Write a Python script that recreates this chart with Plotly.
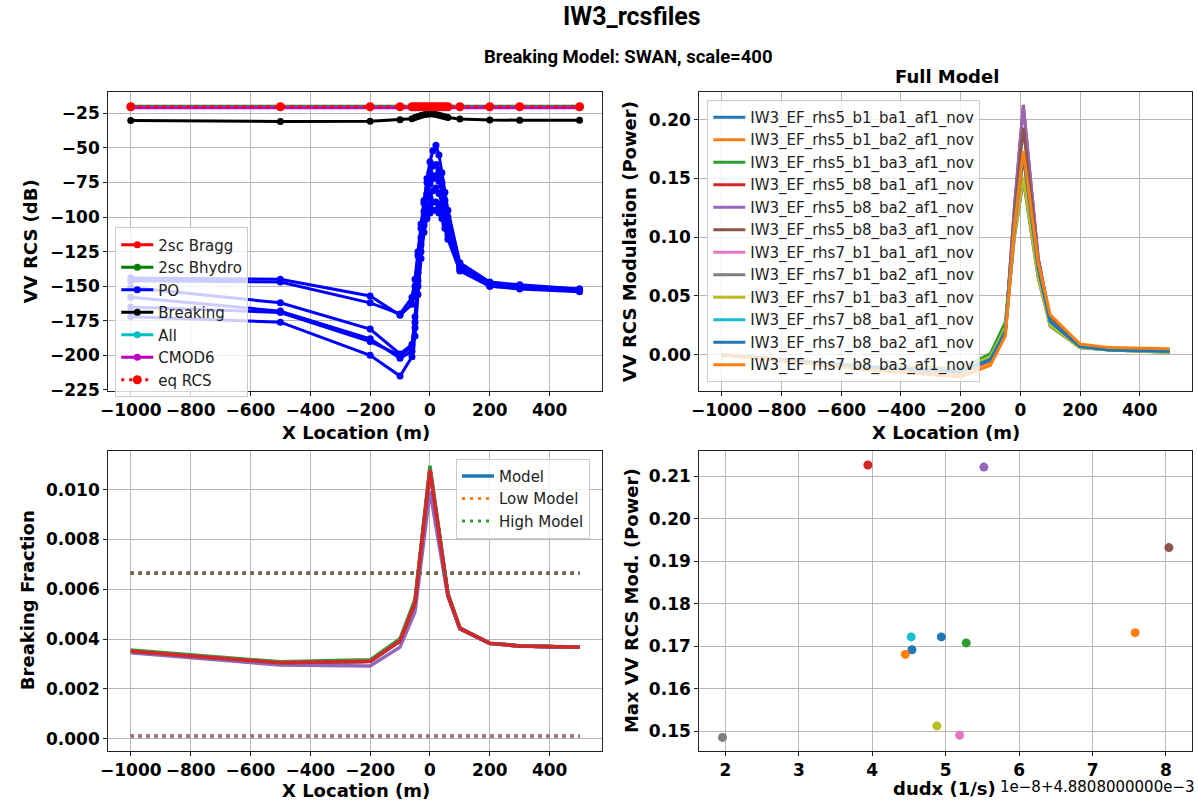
import plotly.graph_objects as go

W, H = 1198, 811

# ---------------- data ----------------
X_LOC = [-1000, -500, -200, -100, -60, -50, -40, -30, -20, -10, 0, 10, 20, 30, 40, 50, 60, 100, 200, 300, 500]

BRAGG_DB = [-19.8, -19.8, -19.8, -19.8, -19.8, -19.8, -19.8, -19.8, -19.8, -19.8, -19.8,
            -19.8, -19.8, -19.8, -19.8, -19.8, -19.8, -19.8, -19.8, -19.8, -19.8]
BHYDRO_DB = [-20.0, -20.0, -20.0, -20.0, -20.0, -20.0, -20.0, -20.0, -20.0, -20.0, -20.0,
             -20.0, -20.0, -20.0, -20.0, -20.0, -20.0, -20.0, -20.0, -20.0, -20.0]
ALL_DB = [-20.4, -20.4, -20.4, -20.4, -20.4, -20.4, -20.4, -20.4, -20.4, -20.4, -20.4,
          -20.4, -20.4, -20.4, -20.4, -20.4, -20.4, -20.4, -20.4, -20.4, -20.4]
CMOD6_DB = [-20.9, -20.9, -20.9, -20.9, -20.9, -20.9, -20.9, -20.9, -20.9, -20.9, -20.9,
            -20.9, -20.9, -20.9, -20.9, -20.9, -20.9, -20.9, -20.9, -20.9, -20.9]
EQ_RCS_DB = [-20.1, -20.1, -20.1, -20.1, -20.1, -20.1, -20.1, -20.1, -20.1, -20.1, -20.1,
             -20.1, -20.1, -20.1, -20.1, -20.1, -20.1, -20.1, -20.1, -20.1, -20.1]
BREAKING_DB = [-30.2, -30.8, -30.6, -29.6, -28.8, -28.0, -27.3, -26.6, -26.0, -25.6, -25.4,
               -25.5, -25.8, -26.3, -26.9, -27.5, -28.0, -29.0, -29.8, -29.9, -30.0]
PO_DB = [
    [-144, -145, -157, -171, -163, -150, -128, -108, -90, -72, -60, -52, -48, -55, -68, -82, -95, -133, -147, -149, -152],
    [-146, -147, -162, -170, -158, -145, -125, -105, -88, -75, -68, -63, -62, -66, -75, -88, -100, -135, -148, -150, -152],
    [-151, -162, -181, -199, -192, -172, -140, -115, -96, -83, -76, -72, -70, -74, -82, -93, -104, -136, -149, -151, -153],
    [-158, -168, -188, -202, -197, -180, -150, -125, -106, -93, -86, -81, -79, -83, -90, -100, -110, -137, -149, -151, -153],
    [-165, -169, -190, -200, -194, -176, -146, -120, -102, -95, -91, -89, -89, -92, -98, -105, -113, -138, -150, -151, -153],
    [-172, -176, -200, -215, -201, -186, -156, -130, -111, -101, -97, -95, -95, -97, -101, -108, -116, -139, -150, -152, -154],
]

FILES = [
    "IW3_EF_rhs5_b1_ba1_af1_nov", "IW3_EF_rhs5_b1_ba2_af1_nov", "IW3_EF_rhs5_b1_ba3_af1_nov",
    "IW3_EF_rhs5_b8_ba1_af1_nov", "IW3_EF_rhs5_b8_ba2_af1_nov", "IW3_EF_rhs5_b8_ba3_af1_nov",
    "IW3_EF_rhs7_b1_ba1_af1_nov", "IW3_EF_rhs7_b1_ba2_af1_nov", "IW3_EF_rhs7_b1_ba3_af1_nov",
    "IW3_EF_rhs7_b8_ba1_af1_nov", "IW3_EF_rhs7_b8_ba2_af1_nov", "IW3_EF_rhs7_b8_ba3_af1_nov",
]

MOD_X = [-1000, -500, -200, -100, -50, -20, 10, 60, 100, 200, 300, 500]
MOD_POWER = [
    [0.000, -0.011, -0.014, -0.004, 0.020, 0.110, 0.1722, 0.075, 0.028, 0.007, 0.004, 0.003],
    [0.000, -0.012, -0.016, -0.006, 0.018, 0.105, 0.1681, 0.072, 0.030, 0.008, 0.005, 0.004],
    [0.000, -0.010, -0.012, 0.001, 0.028, 0.110, 0.1708, 0.068, 0.024, 0.006, 0.004, 0.002],
    [0.000, -0.012, -0.014, -0.005, 0.020, 0.125, 0.2126, 0.082, 0.030, 0.007, 0.005, 0.003],
    [0.000, -0.012, -0.014, -0.005, 0.020, 0.125, 0.2121, 0.082, 0.030, 0.007, 0.005, 0.003],
    [0.000, -0.012, -0.014, -0.004, 0.021, 0.118, 0.1932, 0.080, 0.031, 0.007, 0.005, 0.003],
    [0.000, -0.010, -0.012, -0.003, 0.022, 0.100, 0.1491, 0.065, 0.025, 0.006, 0.004, 0.002],
    [0.000, -0.010, -0.013, -0.003, 0.021, 0.100, 0.1486, 0.065, 0.025, 0.006, 0.004, 0.002],
    [0.000, -0.010, -0.012, -0.002, 0.023, 0.102, 0.1513, 0.066, 0.025, 0.006, 0.004, 0.002],
    [0.000, -0.011, -0.014, -0.004, 0.020, 0.110, 0.1722, 0.075, 0.028, 0.007, 0.004, 0.003],
    [0.000, -0.011, -0.014, -0.004, 0.020, 0.108, 0.1692, 0.073, 0.028, 0.007, 0.004, 0.003],
    [0.000, -0.013, -0.019, -0.009, 0.016, 0.108, 0.1732, 0.078, 0.034, 0.009, 0.006, 0.005],
]

BF_X = [-1000, -500, -200, -100, -50, 0, 60, 100, 200, 300, 500]
BF_MID = [0.00351, 0.00305, 0.00311, 0.00393, 0.00545, 0.01079, 0.00578, 0.00443, 0.00383, 0.00373, 0.00368]
BF_HIGH = [0.00356, 0.00309, 0.00317, 0.00402, 0.00560, 0.01096, 0.00585, 0.00445, 0.00384, 0.00374, 0.00369]
BF_LOW = [0.00345, 0.00296, 0.00292, 0.00368, 0.00510, 0.00993, 0.00570, 0.00441, 0.00382, 0.00372, 0.00367]
BF_CURVE_OF_FILE = ["mid", "mid", "mid", "mid", "high", "mid", "mid", "mid", "low", "mid", "mid", "mid"]
LOW_MODEL = 0.000106
HIGH_MODEL = 0.00664

DUDX_OFFSET = [4.94, 7.58, 5.28, 3.94, 5.52, 8.04, 5.19, 1.96, 4.88, 4.53, 4.54, 4.45]  # x 1e-8 + 4.8808e-3
MAX_MOD = [0.1722, 0.1732, 0.1708, 0.2126, 0.2121, 0.1932, 0.1491, 0.1486, 0.1513, 0.1722, 0.1692, 0.1681]

TAB10 = ["#1f77b4", "#ff7f0e", "#2ca02c", "#d62728", "#9467bd",
         "#8c564b", "#e377c2", "#7f7f7f", "#bcbd22", "#17becf"]

# ---------------- figure ----------------
fig = go.Figure()

def px_x(p):
    return p / W

def px_y(p):
    return 1 - p / H

# top-left: VV RCS (dB)
def tl(y, name, color, dash="solid", show=False, width=3, msize=7):
    fig.add_trace(go.Scatter(x=X_LOC, y=y, mode="lines+markers", name=name,
                             line=dict(color=color, width=width, dash=dash),
                             marker=dict(color=color, size=msize),
                             showlegend=show, legend="legend", xaxis="x", yaxis="y"))

tl(BRAGG_DB, "2sc Bragg", "#ff0000", show=True)
tl(BHYDRO_DB, "2sc Bhydro", "#008000", show=True)
for i, po in enumerate(PO_DB):
    tl(po, "PO", "#0000ff", show=(i == 0))
tl(BREAKING_DB, "Breaking", "#000000", show=True)
tl(ALL_DB, "All", "#00bfbf", show=True)
tl(CMOD6_DB, "CMOD6", "#bf00bf", show=True)
tl(EQ_RCS_DB, "eq RCS", "#ff0000", dash="3px,5px", show=True, msize=9)

# top-right: modulation
for i, (name, vals) in enumerate(zip(FILES, MOD_POWER)):
    fig.add_trace(go.Scatter(x=MOD_X, y=vals, mode="lines", name=name,
                             line=dict(color=TAB10[i % 10], width=3),
                             showlegend=True, legend="legend2", xaxis="x2", yaxis="y2"))

# bottom-left: breaking fraction
curves = {"mid": BF_MID, "high": BF_HIGH, "low": BF_LOW}
k = 0
for i, key in enumerate(BF_CURVE_OF_FILE):
    first = (i == 0)
    fig.add_trace(go.Scatter(x=BF_X, y=curves[key], mode="lines", name="Model",
                             line=dict(color=TAB10[k % 10], width=3.5),
                             showlegend=first, legend="legend3", xaxis="x3", yaxis="y3"))
    k += 1
    fig.add_trace(go.Scatter(x=[BF_X[0], BF_X[-1]], y=[LOW_MODEL, LOW_MODEL], mode="lines",
                             name="Low Model",
                             line=dict(color=TAB10[k % 10], width=3, dash="3px,5px"),
                             showlegend=first, legend="legend3", xaxis="x3", yaxis="y3"))
    k += 1
    fig.add_trace(go.Scatter(x=[BF_X[0], BF_X[-1]], y=[HIGH_MODEL, HIGH_MODEL], mode="lines",
                             name="High Model",
                             line=dict(color=TAB10[k % 10], width=3, dash="3px,5px"),
                             showlegend=first, legend="legend3", xaxis="x3", yaxis="y3"))
    k += 1

# bottom-right: scatter
for i, (dx, mm) in enumerate(zip(DUDX_OFFSET, MAX_MOD)):
    fig.add_trace(go.Scatter(x=[dx], y=[mm], mode="markers", name=FILES[i],
                             marker=dict(color=TAB10[i % 10], size=9),
                             showlegend=False, xaxis="x4", yaxis="y4"))

TICKFONT = dict(family="DejaVu Sans", size=17, color="black", weight="bold")

def axis(domain, rng, anchor, **kw):
    d = dict(domain=domain, range=rng, anchor=anchor, showline=True, linecolor="#222222",
             linewidth=1.3, mirror=True, ticks="outside", ticklen=4, tickcolor="#222222",
             tickwidth=1, showgrid=True, gridcolor="#b8b8b8", gridwidth=1, zeroline=False,
             tickfont=TICKFONT, tickangle=0)
    d.update(kw)
    return d

XL = [px_x(101), px_x(598)]
XR = [px_x(696), px_x(1192)]
YT = [px_y(395), px_y(93)]
YB = [px_y(759), px_y(456)]
XLOC_TICKS = [-1000, -800, -600, -400, -200, 0, 200, 400]

LEGEND_COMMON = dict(xanchor="left", yanchor="top",
                     bgcolor="rgba(255,255,255,0.8)", bordercolor="#cccccc", borderwidth=1,
                     font=dict(family="DejaVu Sans", size=15, color="#222"), itemwidth=32,
                     tracegroupgap=0)

fig.update_layout(
    width=W, height=H, margin=dict(l=0, r=0, t=0, b=0),
    paper_bgcolor="white", plot_bgcolor="white",
    xaxis=axis(XL, [-1075, 575], "y", tickvals=XLOC_TICKS),
    yaxis=axis(YT, [-225.5, -9.5], "x", dtick=25, tick0=0),
    xaxis2=axis(XR, [-1075, 575], "y2", tickvals=XLOC_TICKS),
    yaxis2=axis(YT, [-0.0306, 0.2236], "x2", dtick=0.05, tickformat=".2f"),
    xaxis3=axis(XL, [-1075, 575], "y3", tickvals=XLOC_TICKS),
    yaxis3=axis(YB, [-0.00047, 0.01155], "x3", dtick=0.002, tickformat=".3f"),
    xaxis4=axis(XR, [1.645, 8.355], "y4", dtick=1, tick0=0),
    yaxis4=axis(YB, [0.1455, 0.2159], "x4", dtick=0.01, tickformat=".2f"),
    legend=dict(x=px_x(108), y=px_y(230), **LEGEND_COMMON),
    legend2=dict(x=px_x(704), y=px_y(101), **LEGEND_COMMON),
    legend3=dict(x=px_x(451), y=px_y(464), **LEGEND_COMMON),
)

ann = []
def text(x, y, s, size, bold=True, angle=0, family="DejaVu Sans", xanchor="center"):
    ann.append(dict(x=px_x(x), y=px_y(y), xref="paper", yref="paper", text=s, showarrow=False,
                    textangle=angle, xanchor=xanchor, yanchor="middle",
                    font=dict(family=family, size=size, color="black",
                              weight="bold" if bold else "normal")))

text(628, 17, "IW3_rcsfiles", 25, family="Roboto")
text(625, 58, "Breaking Model: SWAN, scale=400", 18.5, family="Roboto")
text(945, 77, "Full Model", 18)
text(22, 244, "VV RCS (dB)", 18, angle=-90)
text(625, 244, "VV RCS Modulation (Power)", 18, angle=-90)
text(19, 607, "Breaking Fraction", 18, angle=-90)
text(627, 607, "Max VV RCS Mod. (Power)", 18, angle=-90)
text(350, 437, "X Location (m)", 18)
text(944, 437, "X Location (m)", 18)
text(350, 799, "X Location (m)", 18)
text(943, 797, "dudx (1/s)", 18)
text(1197, 796, "1e\u22128+4.8808000000e\u22123", 15, bold=False, xanchor="right")
fig.update_layout(annotations=ann)

fig.write_html("out.html")
